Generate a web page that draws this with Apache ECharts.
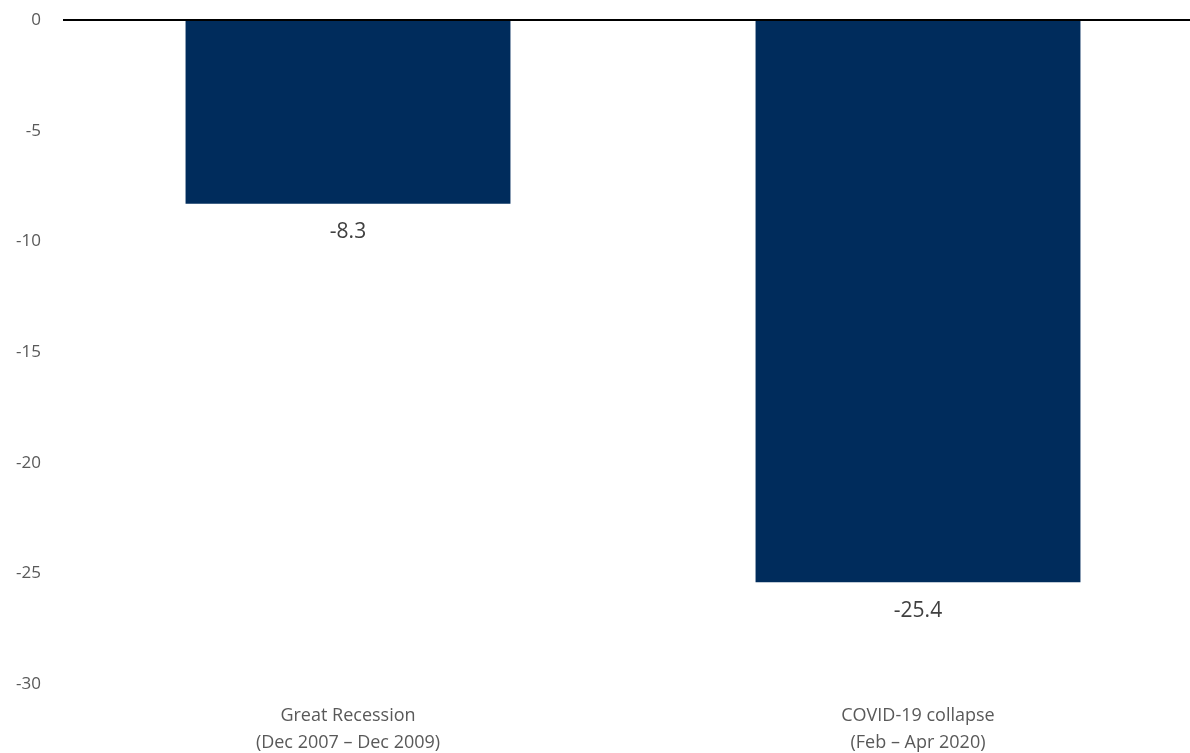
<!DOCTYPE html>
<html>
<head>
<meta charset="utf-8">
<script src="https://cdn.jsdelivr.net/npm/echarts@6/dist/echarts.min.js"></script>
<style>
  html, body { margin: 0; padding: 0; background: #fff; }
  #main { width: 1190px; height: 753px; }
</style>
</head>
<body>
<div id="main"></div>
<script>
var categories = ['Great Recession\n(Dec 2007 \u2013 Dec 2009)', 'COVID-19 collapse\n(Feb \u2013 Apr 2020)'];
var declines = [-8.3, -25.4];
var yTicks = { min: -30, max: 0, step: 5 };

var chart = echarts.init(document.getElementById('main'));

var option = {
  animation: false,
  textStyle: { fontFamily: 'Open Sans' },
  grid: { left: 63, top: 20, width: 1140, height: 664, containLabel: false, outerBoundsMode: 'none' },
  xAxis: {
    type: 'category',
    data: categories,
    position: 'bottom',
    axisLine: { show: false, onZero: false },
    axisTick: { show: false },
    axisLabel: { color: '#595959', fontSize: 18, lineHeight: 27, margin: 18, interval: 0 }
  },
  yAxis: {
    type: 'value',
    min: yTicks.min,
    max: yTicks.max,
    interval: yTicks.step,
    axisLine: { show: false },
    axisTick: { show: false },
    splitLine: { show: false },
    axisLabel: { color: '#595959', fontSize: 17, margin: 22 }
  },
  series: [{
    type: 'bar',
    data: declines,
    barCategoryGap: '43%',
    itemStyle: { color: '#002c5c' },
    label: {
      show: true,
      position: 'bottom',
      distance: 18,
      color: '#404040',
      fontSize: 21,
      formatter: function (p) { return p.value.toFixed(1); }
    },
    markLine: {
      silent: true,
      symbol: 'none',
      label: { show: false },
      lineStyle: { color: '#000', width: 2, type: 'solid' },
      data: [{ yAxis: 0 }]
    }
  }]
};

chart.setOption(option);
</script>
</body>
</html>
